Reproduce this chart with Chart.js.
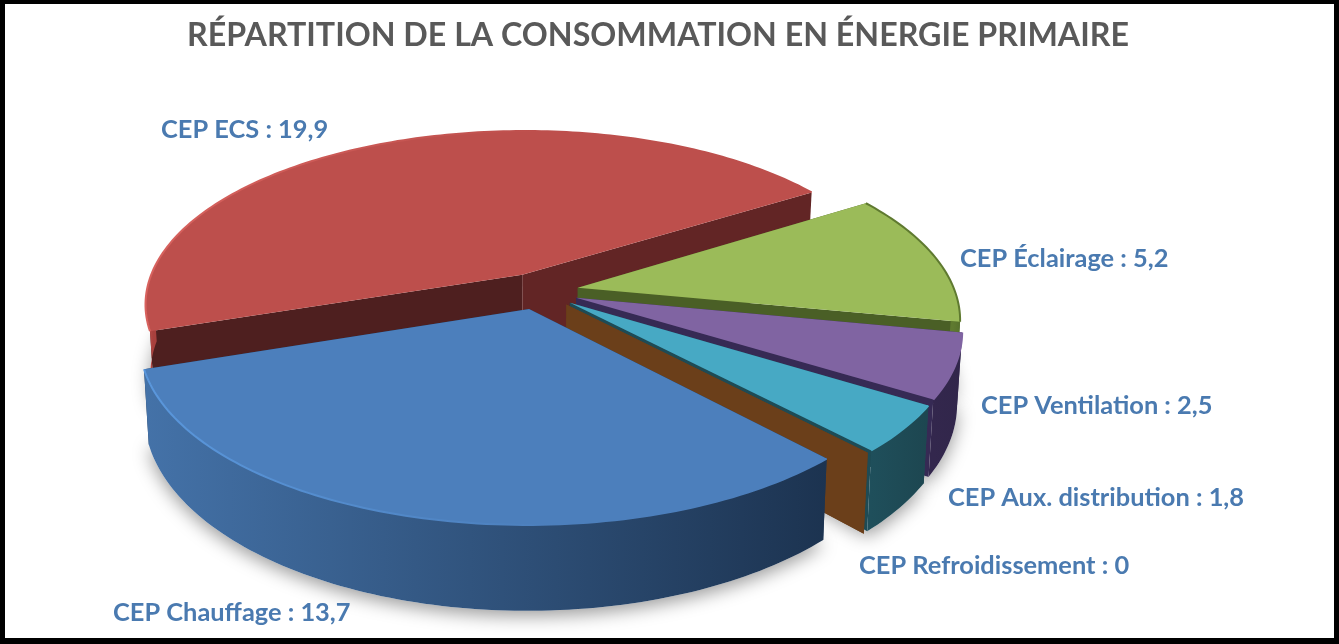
<!DOCTYPE html>
<html>
<head>
<meta charset="utf-8">
<title>Répartition de la consommation</title>
<script src="https://cdn.jsdelivr.net/npm/chart.js@4"></script>
<style>
  html, body { margin: 0; padding: 0; background: #fff; }
  #wrap { position: relative; width: 1339px; height: 644px; }
</style>
</head>
<body>
<div id="wrap"><canvas id="pie"></canvas></div>
<script>
// data
const categories = ['CEP Chauffage', 'CEP ECS', 'CEP Éclairage', 'CEP Ventilation', 'CEP Aux. distribution', 'CEP Refroidissement'];
const values = [13.7, 19.9, 5.2, 2.5, 1.8, 0];

// styles
const topColors = ['#4c7fbc', '#bd4f4c', '#9bbb59', '#8064a2', '#47a9c4', '#f79646'];
const faceColors = ['#1d3553', '#4e1f1f', '#4a5f26', '#362a54', '#1e4b55', '#6b3f1a'];
const endFaceColors = ['#1d3553', '#622525', '#4a5f26', '#362a54', '#1e4b55', '#6b3f1a'];
const wallLeft = ['#4472a8', '#c85753', '#5f7a30', '#33274d', '#1f4f5b', '#6b3f1a'];
const wallRight = ['#1c3350', '#a8403d', '#55702c', '#31264a', '#1d4650', '#6b3f1a'];
const rimColors = ['#5a97dc', '#d8625e', '#5f7a30', '#8064a2', '#47a9c4', '#6b3f1a'];
const rimFade = ['#4c7fbc', '#bd4f4c', '#5f7a30', '#8064a2', '#47a9c4', '#6b3f1a'];
const labelColor = '#4a7ab0';
const labelAnchors = [[113, 613], [161, 130], [960, 259], [981, 406], [948, 498], [859, 566]];
const drawOrder = [1, 2, 3, 4, 5, 0];   // back to front

// perspective of the pie plate
const view = { cx: 539, cy: 291, A: 377, B: 173, p: 0.168, depth: 70, taper: 0.012 };

function project(u, v, z) {
  const w = 1 / (1 - view.p * v);
  return [view.cx + view.A * u * w * (1 - view.taper * z), view.cy + view.B * v * w + view.depth * z * w];
}

function rimPoints(arc, z) {
  const e = arc.options.offset / arc.outerRadius;
  const mid = (arc.startAngle + arc.endAngle) / 2;
  const ex = e * Math.cos(mid), ey = e * Math.sin(mid);
  const steps = Math.max(1, Math.ceil((arc.endAngle - arc.startAngle) / 0.02));
  const pts = [], front = [];
  for (let i = 0; i <= steps; i++) {
    const a = arc.startAngle + (arc.endAngle - arc.startAngle) * i / steps;
    const p = project(ex + Math.cos(a), ey + Math.sin(a), z);
    pts.push(p);
    if (Math.sin(a) > -0.02) front.push(p);   // only this part of the wall faces us
  }
  return { pts, front, centre: project(ex, ey, z) };
}

function poly(ctx, pts, fill) {
  ctx.beginPath();
  pts.forEach((p, i) => i ? ctx.lineTo(p[0], p[1]) : ctx.moveTo(p[0], p[1]));
  ctx.closePath();
  ctx.fillStyle = fill;
  ctx.fill();
}

const pie3d = {
  id: 'pie3d',
  beforeDraw(chart) {
    const ctx = chart.ctx;
    ctx.save();
    ctx.fillStyle = '#fff';
    ctx.fillRect(0, 0, chart.width, chart.height);
    ctx.restore();
  },
  beforeDatasetDraw(chart) {
    const ctx = chart.ctx;
    const arcs = chart.getDatasetMeta(0).data;
    ctx.save();

    // soft ground shadow
    ctx.save();
    ctx.shadowColor = 'rgba(0,0,0,0.4)';
    ctx.shadowBlur = 18;
    ctx.shadowOffsetY = 5;
    drawOrder.forEach(i => {
      const low = rimPoints(arcs[i], 1);
      poly(ctx, [low.centre, ...low.pts], '#ffffff');
    });
    ctx.restore();

    drawOrder.forEach(i => {
      const arc = arcs[i];
      const up = rimPoints(arc, 0), low = rimPoints(arc, 1);
      const n = up.pts.length - 1;

      // cut faces
      poly(ctx, [up.centre, up.pts[0], low.pts[0], low.centre], faceColors[i]);
      poly(ctx, [up.centre, up.pts[n], low.pts[n], low.centre], endFaceColors[i]);

      if (n > 1) {
        // outer wall
        const wx = up.front.map(p => p[0]);
        const g = ctx.createLinearGradient(Math.min(...wx), 0, Math.max(...wx) + 1, 0);
        g.addColorStop(0, wallLeft[i]);
        g.addColorStop(1, wallRight[i]);
        poly(ctx, [...up.front, ...low.front.slice().reverse()], g);

        // top plate with its lit rim, which fades out to the right
        const xs = up.pts.map(p => p[0]);
        const x0 = Math.min(...xs), x1 = Math.max(...xs);
        poly(ctx, [up.centre, ...up.pts], topColors[i]);
        const rim = ctx.createLinearGradient(x0, 0, x0 + (x1 - x0) * 0.6, 0);
        rim.addColorStop(0, rimColors[i]);
        rim.addColorStop(1, rimFade[i]);
        ctx.beginPath();
        up.pts.forEach((p, k) => k ? ctx.lineTo(p[0], p[1]) : ctx.moveTo(p[0], p[1]));
        ctx.strokeStyle = rim;
        ctx.lineWidth = 2;
        ctx.stroke();
      }
    });
    ctx.restore();
    return false;
  },
  afterDatasetsDraw(chart) {
    const ctx = chart.ctx;
    ctx.save();
    ctx.font = 'bold 25.4px Lato';
    ctx.fillStyle = labelColor;
    ctx.textAlign = 'left';
    ctx.textBaseline = 'middle';
    categories.forEach((c, i) => {
      const txt = c + ' : ' + String(values[i]).replace('.', ',');
      ctx.fillText(txt, labelAnchors[i][0], labelAnchors[i][1]);
    });
    // picture frame
    ctx.fillStyle = '#000';
    ctx.fillRect(0, 0, chart.width, 4);
    ctx.fillRect(0, 638, chart.width, 6);
    ctx.fillRect(0, 0, 5, chart.height);
    ctx.fillRect(chart.width - 5, 0, 5, chart.height);
    ctx.restore();
  }
};

new Chart(document.getElementById('pie'), {
  type: 'pie',
  data: {
    labels: categories,
    datasets: [{ data: values, backgroundColor: topColors, borderWidth: 0, offset: 21 }]
  },
  options: {
    responsive: true,
    maintainAspectRatio: false,
    animation: false,
    rotation: 137,
    radius: 200,
    layout: { padding: { right: 23 } },
    plugins: {
      legend: { display: false },
      tooltip: { enabled: false },
      title: {
        display: true,
        text: 'RÉPARTITION DE LA CONSOMMATION EN ÉNERGIE PRIMAIRE',
        color: '#595959',
        font: { family: 'Lato', size: 32.2, weight: 'bold' },
        padding: { top: 16, bottom: 10 }
      }
    }
  },
  plugins: [pie3d]
});
</script>
</body>
</html>
